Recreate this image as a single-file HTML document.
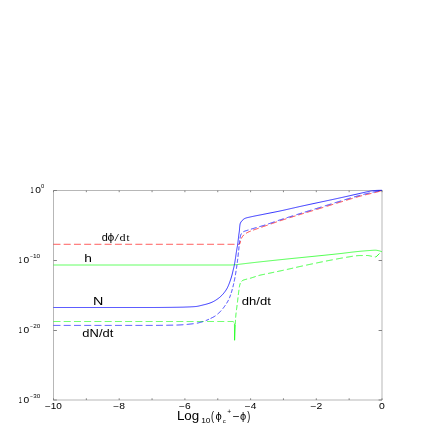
<!DOCTYPE html>
<html><head><meta charset="utf-8"><style>
html,body{margin:0;padding:0;background:#fff;}
svg{display:block;will-change:transform;font-family:"Liberation Sans",sans-serif;fill:#000;}
</style></head><body>
<svg width="436" height="436" viewBox="0 0 436 436">
<path d="M53.5,400.5 V190.5 H382.5" stroke="#b7b7b7" stroke-width="1" fill="none"/>
<path d="M382.0,190.5 V400.0 H53.5" stroke="#b7b7b7" stroke-width="1" fill="none"/>
<path d="M53.50,400.0 v-1.7 M53.50,190.5 v1.7 M86.35,400.0 v-1.7 M86.35,190.5 v1.7 M119.20,400.0 v-1.7 M119.20,190.5 v1.7 M152.05,400.0 v-1.7 M152.05,190.5 v1.7 M184.90,400.0 v-1.7 M184.90,190.5 v1.7 M217.75,400.0 v-1.7 M217.75,190.5 v1.7 M250.60,400.0 v-1.7 M250.60,190.5 v1.7 M283.45,400.0 v-1.7 M283.45,190.5 v1.7 M316.30,400.0 v-1.7 M316.30,190.5 v1.7 M349.15,400.0 v-1.7 M349.15,190.5 v1.7 M382.00,400.0 v-1.7 M382.00,190.5 v1.7 M53.5,190.50 h3.4 M382.0,190.50 h-3.4 M53.5,260.50 h3.4 M382.0,260.50 h-3.4 M53.5,330.50 h3.4 M382.0,330.50 h-3.4 M53.5,400.00 h3.4 M382.0,400.00 h-3.4 " stroke="#777" stroke-width="0.9" fill="none"/>
<path d="M53.50,265.00 L54.50,265.00 L55.50,265.00 L56.50,265.00 L57.50,265.00 L58.51,265.00 L59.51,265.00 L60.51,265.00 L61.51,265.00 L62.51,265.00 L63.51,265.00 L64.51,265.00 L65.51,265.00 L66.51,265.00 L67.52,265.00 L68.52,265.00 L69.52,265.00 L70.52,265.00 L71.52,265.00 L72.52,265.00 L73.52,265.00 L74.52,265.00 L75.52,265.00 L76.52,265.00 L77.52,265.00 L78.52,265.00 L79.53,265.00 L80.53,265.00 L81.53,265.00 L82.53,265.00 L83.53,265.00 L84.53,265.00 L85.53,265.00 L86.53,265.00 L87.53,265.00 L88.53,265.00 L89.53,265.00 L90.53,265.00 L91.53,265.00 L92.53,265.00 L93.53,265.00 L94.54,265.00 L95.54,265.00 L96.54,265.00 L97.54,265.00 L98.54,265.00 L99.54,265.00 L100.54,265.00 L101.54,265.00 L102.54,265.00 L103.54,265.00 L104.54,265.00 L105.54,265.00 L106.54,265.00 L107.54,265.00 L108.54,265.00 L109.54,265.00 L110.54,265.00 L111.54,265.00 L112.54,265.00 L113.54,265.00 L114.54,265.00 L115.54,265.00 L116.54,265.00 L117.54,265.00 L118.54,265.00 L119.54,265.00 L120.54,265.00 L121.54,265.00 L122.54,265.00 L123.54,265.00 L124.54,265.00 L125.54,265.00 L126.54,265.00 L127.54,265.00 L128.54,265.00 L129.54,265.00 L130.55,265.00 L131.55,265.00 L132.55,265.00 L133.55,265.00 L134.55,265.00 L135.55,265.00 L136.55,265.00 L137.54,265.00 L138.54,265.00 L139.54,265.00 L140.54,265.00 L141.54,265.00 L142.54,265.00 L143.54,265.00 L144.54,265.00 L145.54,265.00 L146.54,265.00 L147.54,265.00 L148.54,265.00 L149.54,265.00 L150.54,265.00 L151.54,265.00 L152.54,265.00 L153.54,265.00 L154.54,265.00 L155.54,265.00 L156.54,265.00 L157.54,265.00 L158.54,265.00 L159.54,265.00 L160.54,265.00 L161.54,265.00 L162.54,265.00 L163.54,265.00 L164.54,265.00 L165.54,265.00 L166.54,265.00 L167.54,265.00 L168.54,265.00 L169.54,265.00 L170.54,265.00 L171.54,265.00 L172.54,265.00 L173.54,265.00 L174.54,265.00 L175.54,265.00 L176.53,265.00 L177.53,265.00 L178.53,265.00 L179.53,265.00 L180.53,265.00 L181.53,265.00 L182.53,265.00 L183.53,265.00 L184.53,265.00 L185.53,265.00 L186.53,265.00 L187.53,265.00 L188.53,265.00 L189.53,265.00 L190.53,265.00 L191.53,265.00 L192.53,265.00 L193.53,265.00 L194.53,265.00 L195.52,265.00 L196.52,265.00 L197.52,265.00 L198.52,265.00 L199.52,265.00 L200.52,265.00 L201.52,265.00 L202.52,265.00 L203.52,265.00 L204.52,265.00 L205.52,265.00 L206.52,265.00 L207.52,265.00 L208.52,265.00 L209.52,265.00 L210.51,265.00 L211.51,265.00 L212.51,265.00 L213.51,265.00 L214.51,265.00 L215.51,265.00 L216.51,265.00 L217.51,265.00 L218.51,265.00 L219.51,265.00 L220.51,265.00 L221.51,265.00 L222.51,265.00 L223.51,265.00 L224.50,265.00 L225.50,265.00 L226.50,265.00 L227.50,265.00 L228.50,265.00 L229.50,265.00 L230.50,265.00 L231.50,264.97 L232.50,264.93 L233.50,264.88 L234.50,264.81 L235.49,264.74 L236.49,264.66 L237.48,264.54 L238.47,264.41 L239.47,264.27 L240.46,264.14 L241.45,264.02 L242.44,263.90 L243.44,263.78 L244.43,263.66 L245.42,263.54 L246.41,263.42 L247.41,263.30 L248.40,263.19 L249.39,263.07 L250.39,262.96 L251.38,262.84 L252.37,262.73 L253.37,262.62 L254.36,262.50 L255.36,262.39 L256.35,262.28 L257.34,262.17 L258.34,262.06 L259.33,261.95 L260.32,261.84 L261.32,261.73 L262.31,261.62 L263.31,261.51 L264.30,261.41 L265.29,261.30 L266.29,261.19 L267.28,261.08 L268.28,260.98 L269.27,260.87 L270.27,260.76 L271.26,260.66 L272.26,260.55 L273.25,260.45 L274.24,260.34 L275.24,260.24 L276.23,260.13 L277.23,260.03 L278.22,259.92 L279.22,259.82 L280.21,259.71 L281.21,259.61 L282.20,259.51 L283.20,259.40 L284.19,259.30 L285.18,259.20 L286.18,259.09 L287.17,258.99 L288.17,258.89 L289.16,258.79 L290.16,258.68 L291.15,258.58 L292.15,258.48 L293.14,258.38 L294.14,258.28 L295.13,258.18 L296.13,258.09 L297.12,257.99 L298.12,257.89 L299.11,257.79 L300.11,257.69 L301.10,257.59 L302.10,257.49 L303.09,257.39 L304.09,257.29 L305.08,257.19 L306.08,257.09 L307.07,256.99 L308.07,256.89 L309.06,256.79 L310.06,256.69 L311.05,256.59 L312.05,256.49 L313.04,256.39 L314.04,256.29 L315.03,256.19 L316.03,256.09 L317.02,255.99 L318.02,255.89 L319.01,255.79 L320.01,255.69 L321.00,255.59 L322.00,255.49 L322.99,255.39 L323.99,255.29 L324.98,255.19 L325.98,255.09 L326.97,254.98 L327.97,254.88 L328.96,254.78 L329.96,254.67 L330.95,254.57 L331.95,254.47 L332.94,254.36 L333.94,254.25 L334.93,254.15 L335.92,254.04 L336.92,253.94 L337.91,253.83 L338.91,253.72 L339.90,253.61 L340.89,253.50 L341.89,253.39 L342.88,253.27 L343.87,253.15 L344.87,253.03 L345.86,252.91 L346.85,252.79 L347.84,252.66 L348.84,252.54 L349.83,252.42 L350.82,252.29 L351.82,252.17 L352.81,252.06 L353.80,251.94 L354.80,251.83 L355.79,251.72 L356.78,251.61 L357.78,251.51 L358.77,251.41 L359.77,251.32 L360.76,251.23 L361.76,251.14 L362.76,251.05 L363.75,250.97 L364.75,250.89 L365.75,250.81 L366.74,250.73 L367.74,250.66 L368.74,250.58 L369.74,250.52 L370.73,250.45 L371.73,250.37 L372.73,250.30 L373.73,250.24 L374.73,250.21 L375.72,250.21 L376.72,250.32 L377.71,250.49 L378.69,250.71 L379.66,250.94 L380.61,251.24 L381.55,251.61 L382.00,251.80" stroke="#00ff00" stroke-width="0.68" fill="none"/>
<path d="M53.50,321.50 L54.04,321.50 L54.57,321.50 L55.11,321.50 L55.64,321.50 L56.17,321.50 L56.71,321.50 L57.24,321.50 L57.78,321.50 L58.31,321.50 L58.84,321.50 L59.38,321.50 L59.91,321.50 L60.40,321.50 M63.74,321.50 L64.16,321.50 L64.69,321.50 L65.22,321.50 L65.75,321.50 L66.28,321.50 L66.81,321.50 L67.34,321.50 L67.87,321.50 L68.39,321.50 L68.92,321.50 L69.45,321.50 L69.98,321.50 L70.51,321.50 L70.64,321.50 M73.98,321.50 L74.19,321.50 L74.72,321.50 L75.24,321.50 L75.77,321.50 L76.29,321.50 L76.82,321.50 L77.34,321.50 L77.87,321.50 L78.39,321.50 L78.92,321.50 L79.44,321.50 L79.96,321.50 L80.49,321.50 L80.88,321.50 M84.22,321.50 L84.66,321.50 L85.18,321.50 L85.70,321.50 L86.22,321.50 L86.74,321.50 L87.26,321.50 L87.78,321.50 L88.30,321.50 L88.82,321.50 L89.34,321.50 L89.86,321.50 L90.38,321.50 L90.90,321.50 L91.12,321.50 M94.46,321.50 L94.52,321.50 L95.04,321.50 L95.55,321.50 L96.07,321.50 L96.59,321.50 L97.10,321.50 L97.62,321.50 L98.13,321.50 L98.65,321.50 L99.16,321.50 L99.68,321.50 L100.19,321.50 L100.71,321.50 L101.22,321.50 L101.36,321.50 M104.70,321.50 L104.81,321.50 L105.32,321.50 L105.84,321.50 L106.35,321.50 L106.86,321.50 L107.37,321.50 L107.88,321.50 L108.39,321.50 L108.91,321.50 L109.42,321.50 L109.93,321.50 L110.44,321.50 L110.95,321.50 L111.46,321.50 L111.60,321.50 M114.94,321.50 L115.02,321.50 L115.53,321.50 L116.04,321.50 L116.55,321.50 L117.05,321.50 L117.56,321.50 L118.07,321.50 L118.57,321.50 L119.08,321.50 L119.59,321.50 L120.10,321.50 L120.60,321.50 L121.11,321.50 L121.61,321.50 L121.84,321.50 M125.18,321.50 L125.65,321.50 L126.16,321.50 L126.66,321.50 L127.17,321.50 L127.67,321.50 L128.17,321.50 L128.68,321.50 L129.18,321.50 L129.68,321.50 L130.19,321.50 L130.69,321.50 L131.19,321.50 L131.69,321.50 L132.08,321.50 M135.42,321.50 L135.70,321.50 L136.20,321.50 L136.70,321.50 L137.21,321.50 L137.71,321.50 L138.20,321.50 L138.70,321.50 L139.20,321.50 L139.70,321.50 L140.20,321.50 L140.70,321.50 L141.20,321.50 L141.70,321.50 L142.20,321.50 L142.32,321.50 M145.66,321.50 L145.68,321.50 L146.18,321.50 L146.68,321.50 L147.17,321.50 L147.67,321.50 L148.17,321.50 L148.66,321.50 L149.16,321.50 L149.65,321.50 L150.15,321.50 L150.65,321.50 L151.14,321.50 L151.64,321.50 L152.13,321.50 L152.56,321.50 M155.90,321.50 L156.09,321.50 L156.58,321.50 L157.08,321.50 L157.57,321.50 L158.06,321.50 L158.56,321.50 L159.05,321.50 L159.54,321.50 L160.03,321.50 L160.53,321.50 L161.02,321.50 L161.51,321.50 L162.00,321.50 L162.49,321.50 L162.80,321.50 M166.14,321.50 L166.42,321.50 L166.92,321.50 L167.41,321.50 L167.90,321.50 L168.39,321.50 L168.88,321.50 L169.37,321.50 L169.86,321.50 L170.35,321.50 L170.83,321.50 L171.32,321.50 L171.81,321.50 L172.30,321.50 L172.79,321.50 L173.04,321.50 M176.38,321.50 L176.70,321.50 L177.18,321.50 L177.67,321.50 L178.16,321.50 L178.65,321.50 L179.13,321.50 L179.62,321.50 L180.11,321.50 L180.59,321.50 L181.08,321.50 L181.57,321.50 L182.05,321.50 L182.54,321.50 L183.03,321.50 L183.28,321.50 M186.62,321.50 L186.91,321.50 L187.40,321.50 L187.88,321.50 L188.36,321.50 L188.85,321.50 L189.33,321.50 L189.82,321.50 L190.30,321.50 L190.79,321.50 L191.27,321.50 L191.75,321.50 L192.24,321.50 L192.72,321.50 L193.21,321.50 L193.52,321.50 M196.86,321.50 L197.07,321.50 L197.55,321.50 L198.03,321.50 L198.52,321.50 L199.00,321.50 L199.48,321.50 L199.96,321.50 L200.44,321.50 L200.93,321.50 L201.41,321.50 L201.89,321.50 L202.37,321.50 L202.85,321.50 L203.33,321.50 L203.76,321.50 M207.10,321.50 L207.18,321.50 L207.66,321.50 L208.14,321.50 L208.62,321.50 L209.10,321.50 L209.58,321.50 L210.06,321.50 L210.54,321.50 L211.02,321.50 L211.50,321.50 L211.98,321.50 L212.46,321.50 L212.93,321.50 L213.41,321.50 L213.89,321.50 L214.00,321.50 M217.34,321.50 L217.72,321.50 L218.20,321.50 L218.68,321.50 L219.16,321.50 L219.63,321.50 L220.11,321.50 L220.59,321.50 L221.07,321.50 L221.54,321.50 L222.02,321.50 L222.50,321.50 L222.98,321.50 L223.45,321.50 L223.93,321.50 L224.24,321.50 M227.58,321.50 L227.74,321.50 L228.22,321.50 L228.70,321.50 L229.17,321.50 L229.65,321.50 L230.13,321.50 L230.60,321.50 L231.08,321.50 L231.55,321.50 L232.03,321.50 L232.50,321.50 L233.00,321.58 L233.47,321.81 L233.82,322.11 L233.97,322.35" stroke="#00ff00" stroke-width="0.68" fill="none"/>
<path d="M234.45,323.5 L234.6,340.3 L235.3,325" stroke="#00ff00" stroke-width="0.68" fill="none"/>
<path d="M235.35,324.60 L235.35,324.35 L235.36,324.10 L235.36,323.85 L235.37,323.60 L235.37,323.35 L235.38,323.10 L235.39,322.85 L235.40,322.60 L235.40,322.35 L235.41,322.10 L235.42,321.85 L235.43,321.60 L235.44,321.35 L235.45,321.10 L235.46,320.85 L235.47,320.60 L235.48,320.35 L235.50,320.10 L235.51,319.88 M235.65,317.61 L235.67,317.36 L235.69,317.11 L235.71,316.86 L235.73,316.61 L235.75,316.36 L235.77,316.11 L235.80,315.86 L235.82,315.61 L235.84,315.37 L235.87,315.12 L235.89,314.87 L235.91,314.62 L235.94,314.37 L235.97,314.12 L235.99,313.87 L236.02,313.63 L236.05,313.38 L236.07,313.13 L236.10,312.88 L236.13,312.63 L236.14,312.58 M236.43,310.15 L236.47,309.90 L236.50,309.65 L236.53,309.41 L236.56,309.16 L236.59,308.91 L236.63,308.66 L236.66,308.41 L236.69,308.17 L236.73,307.92 L236.76,307.67 L236.79,307.42 L236.82,307.17 L236.86,306.93 L236.89,306.68 L236.92,306.43 L236.96,306.18 L236.99,305.93 L237.02,305.69 L237.05,305.44 L237.09,305.19 L237.11,304.97 M237.43,302.46 L237.46,302.21 L237.49,301.97 L237.52,301.72 L237.55,301.47 L237.58,301.22 L237.61,300.97 L237.63,300.72 L237.66,300.48 L237.69,300.23 L237.72,299.98 L237.75,299.73 L237.78,299.48 L237.81,299.23 L237.84,298.99 L237.87,298.74 L237.89,298.49 L237.92,298.24 L237.95,297.99 L237.98,297.74 L238.01,297.50 L238.02,297.44 M238.30,295.01 L238.33,294.76 L238.36,294.52 L238.39,294.27 L238.42,294.02 L238.45,293.77 L238.48,293.52 L238.51,293.27 L238.54,293.03 L238.57,292.78 L238.60,292.53 L238.63,292.28 L238.67,292.03 L238.70,291.79 L238.73,291.54 L238.76,291.29 L238.79,291.04 L238.83,290.79 L238.86,290.55 L238.89,290.30 L238.92,290.05 L238.96,289.83 M239.31,287.33 L239.35,287.08 L239.39,286.83 L239.43,286.59 L239.47,286.34 L239.52,286.10 L239.57,285.85 L239.62,285.61 L239.68,285.36 L239.74,285.12 L239.80,284.88 L239.87,284.64 L239.94,284.40 L240.01,284.16 L240.09,283.92 L240.17,283.68 L240.26,283.45 L240.36,283.21 L240.41,283.09 M241.57,281.33 L241.75,281.16 L241.93,280.99 L242.13,280.84 L242.34,280.69 L242.55,280.55 L242.77,280.42 L242.99,280.31 L243.21,280.20 L243.44,280.11 L243.67,280.02 L243.91,279.94 L244.15,279.86 L244.39,279.78 L244.63,279.71 L244.87,279.64 L245.11,279.57 L245.35,279.50 L245.59,279.43 L245.83,279.37 L246.07,279.31 L246.32,279.25 L246.56,279.19 L246.80,279.13 L247.05,279.07 L247.11,279.06 M249.96,278.34 L250.20,278.27 L250.44,278.20 L250.68,278.13 L250.92,278.06 L251.16,277.98 L251.39,277.91 L251.63,277.83 L251.87,277.76 L252.11,277.68 L252.35,277.60 L252.58,277.52 L252.82,277.45 L253.06,277.37 L253.30,277.29 L253.53,277.21 L253.77,277.13 L254.01,277.05 L254.25,276.97 L254.48,276.89 L254.72,276.81 L254.96,276.73 L255.20,276.65 L255.43,276.57 L255.67,276.49 L255.73,276.47 M258.53,275.59 L258.77,275.52 L259.01,275.46 L259.25,275.39 L259.50,275.33 L259.74,275.27 L259.98,275.21 L260.22,275.15 L260.46,275.09 L260.71,275.03 L260.95,274.98 L261.19,274.92 L261.44,274.87 L261.68,274.82 L261.93,274.76 L262.17,274.71 L262.42,274.66 L262.66,274.61 L262.91,274.56 L263.15,274.51 L263.40,274.47 L263.64,274.42 L263.89,274.37 L264.13,274.32 L264.38,274.27 L264.63,274.22 L264.87,274.17 L264.94,274.16 M268.05,273.50 L268.30,273.45 L268.54,273.40 L268.79,273.35 L269.03,273.30 L269.27,273.24 L269.52,273.19 L269.76,273.14 L270.01,273.09 L270.25,273.04 L270.50,272.99 L270.74,272.94 L270.99,272.88 L271.23,272.83 L271.48,272.78 L271.72,272.73 L271.97,272.68 L272.21,272.63 L272.45,272.57 L272.70,272.52 L272.94,272.47 L273.19,272.42 L273.43,272.37 L273.68,272.32 L273.92,272.26 L274.15,272.22 M277.10,271.59 L277.35,271.54 L277.59,271.49 L277.84,271.44 L278.08,271.38 L278.32,271.33 L278.57,271.28 L278.81,271.23 L279.06,271.18 L279.30,271.12 L279.55,271.07 L279.79,271.02 L280.04,270.97 L280.28,270.92 L280.53,270.86 L280.77,270.81 L281.01,270.76 L281.26,270.71 L281.50,270.65 L281.75,270.60 L281.99,270.55 L282.24,270.50 L282.48,270.44 L282.73,270.39 L282.97,270.34 L283.21,270.29 L283.46,270.23 L283.69,270.18 M286.88,269.49 L287.12,269.44 L287.37,269.38 L287.61,269.33 L287.86,269.28 L288.10,269.22 L288.34,269.17 L288.59,269.11 L288.83,269.06 L289.08,269.01 L289.32,268.95 L289.56,268.90 L289.81,268.84 L290.05,268.79 L290.30,268.73 L290.54,268.68 L290.78,268.62 L291.03,268.57 L291.27,268.51 L291.51,268.46 L291.76,268.40 L292.00,268.34 L292.25,268.29 L292.49,268.23 L292.73,268.18 L292.98,268.12 L293.13,268.08 M296.14,267.38 L296.38,267.32 L296.63,267.26 L296.87,267.21 L297.11,267.15 L297.36,267.09 L297.60,267.04 L297.85,266.98 L298.09,266.93 L298.33,266.87 L298.58,266.82 L298.82,266.76 L299.06,266.71 L299.31,266.65 L299.55,266.60 L299.80,266.54 L300.04,266.49 L300.29,266.44 L300.53,266.38 L300.77,266.33 L301.02,266.28 L301.26,266.23 L301.51,266.17 L301.75,266.12 L301.99,266.07 L302.24,266.01 L302.48,265.96 L302.73,265.91 L302.88,265.87 M306.15,265.17 L306.39,265.12 L306.64,265.06 L306.88,265.01 L307.13,264.96 L307.37,264.91 L307.62,264.86 L307.86,264.80 L308.10,264.75 L308.35,264.70 L308.59,264.65 L308.84,264.59 L309.08,264.54 L309.33,264.49 L309.57,264.44 L309.82,264.39 L310.06,264.34 L310.31,264.28 L310.55,264.23 L310.80,264.18 L311.04,264.13 L311.28,264.08 L311.53,264.03 L311.77,263.97 L312.02,263.92 L312.26,263.87 L312.51,263.82 L312.75,263.77 L312.91,263.74 M316.18,263.05 L316.42,263.00 L316.67,262.95 L316.91,262.90 L317.16,262.85 L317.40,262.80 L317.65,262.75 L317.89,262.70 L318.14,262.65 L318.38,262.60 L318.63,262.55 L318.87,262.50 L319.12,262.45 L319.36,262.40 L319.61,262.35 L319.85,262.30 L320.10,262.25 L320.34,262.20 L320.59,262.15 L320.83,262.10 L321.08,262.05 L321.32,262.00 L321.57,261.95 L321.81,261.90 L322.06,261.85 L322.30,261.80 L322.55,261.75 L322.78,261.71 M325.98,261.07 L326.23,261.02 L326.47,260.97 L326.72,260.92 L326.96,260.87 L327.21,260.83 L327.45,260.78 L327.70,260.73 L327.95,260.68 L328.19,260.63 L328.44,260.58 L328.68,260.54 L328.93,260.49 L329.17,260.44 L329.42,260.39 L329.66,260.35 L329.91,260.30 L330.15,260.25 L330.40,260.20 L330.64,260.16 L330.89,260.11 L331.14,260.06 L331.38,260.01 L331.63,259.97 L331.87,259.92 L332.12,259.87 L332.36,259.83 L332.61,259.78 L332.76,259.75 M336.05,259.13 L336.29,259.08 L336.54,259.04 L336.78,258.99 L337.03,258.95 L337.28,258.90 L337.52,258.85 L337.77,258.81 L338.01,258.76 L338.26,258.72 L338.51,258.67 L338.75,258.63 L339.00,258.58 L339.24,258.54 L339.49,258.49 L339.73,258.45 L339.98,258.40 L340.23,258.36 L340.47,258.31 L340.72,258.27 L340.96,258.22 L341.21,258.18 L341.46,258.14 L341.70,258.09 L341.95,258.05 L342.19,258.00 L342.44,257.96 L342.69,257.92 L342.84,257.89 M346.14,257.33 L346.38,257.29 L346.63,257.25 L346.88,257.21 L347.13,257.17 L347.37,257.13 L347.62,257.10 L347.87,257.06 L348.11,257.02 L348.36,256.98 L348.61,256.94 L348.86,256.90 L349.10,256.86 L349.35,256.82 L349.60,256.78 L349.84,256.74 L350.09,256.69 L350.34,256.65 L350.59,256.61 L350.83,256.57 L351.08,256.52 L351.33,256.48 L351.58,256.44 L351.82,256.40 L352.07,256.36 L352.32,256.32 L352.57,256.28 L352.80,256.24 M356.04,255.79 L356.28,255.77 L356.53,255.74 L356.78,255.72 L357.03,255.70 L357.28,255.68 L357.53,255.66 L357.78,255.65 L358.02,255.63 L358.27,255.62 L358.52,255.61 L358.77,255.60 L359.02,255.60 L359.27,255.59 L359.52,255.59 L359.77,255.58 L360.02,255.58 L360.27,255.57 L360.52,255.57 L360.77,255.56 L361.02,255.56 L361.27,255.55 L361.52,255.55 L361.77,255.55 L362.02,255.54 L362.27,255.54 L362.52,255.53 L362.77,255.53 M366.03,255.50 L366.28,255.50 L366.52,255.50 L366.77,255.50 L367.02,255.50 L367.27,255.50 L367.52,255.51 L367.76,255.53 L368.01,255.55 L368.26,255.57 L368.50,255.61 L368.75,255.65 L369.00,255.69 L369.24,255.73 L369.49,255.78 L369.73,255.83 L369.98,255.89 L370.23,255.94 L370.47,256.00 L370.72,256.06 L370.96,256.11 L371.21,256.17 L371.45,256.23 L371.70,256.28 L371.95,256.34 L371.99,256.34 M374.87,256.84 L374.91,256.84 L375.15,256.88 L375.40,256.92 L375.65,256.96 L375.89,257.00 L375.90,257.00 L376.10,256.80 L379.50,253.53" stroke="#00ff00" stroke-width="0.8" fill="none"/>
<path d="M53.50,244.30 L53.82,244.30 L54.14,244.30 L54.47,244.30 L54.79,244.30 L55.11,244.30 L55.43,244.30 L55.75,244.30 L56.07,244.30 L56.39,244.30 L56.71,244.30 L57.04,244.30 L57.35,244.30 L57.67,244.30 L57.99,244.30 L58.31,244.30 L58.63,244.30 L58.95,244.30 L59.27,244.30 L59.59,244.30 L59.91,244.30 L60.22,244.30 L60.40,244.30 M63.74,244.30 L64.02,244.30 L64.33,244.30 L64.65,244.30 L64.96,244.30 L65.27,244.30 L65.59,244.30 L65.90,244.30 L66.21,244.30 L66.53,244.30 L66.84,244.30 L67.15,244.30 L67.46,244.30 L67.78,244.30 L68.09,244.30 L68.40,244.30 L68.71,244.30 L69.02,244.30 L69.33,244.30 L69.64,244.30 L69.95,244.30 L70.26,244.30 L70.57,244.30 L70.64,244.30 M73.98,244.30 L74.27,244.30 L74.58,244.30 L74.89,244.30 L75.19,244.30 L75.50,244.30 L75.80,244.30 L76.11,244.30 L76.42,244.30 L76.72,244.30 L77.03,244.30 L77.33,244.30 L77.63,244.30 L77.94,244.30 L78.24,244.30 L78.55,244.30 L78.85,244.30 L79.15,244.30 L79.46,244.30 L79.76,244.30 L80.06,244.30 L80.36,244.30 L80.67,244.30 L80.88,244.30 M84.22,244.30 L84.27,244.30 L84.57,244.30 L84.87,244.30 L85.17,244.30 L85.47,244.30 L85.77,244.30 L86.07,244.30 L86.36,244.30 L86.66,244.30 L86.96,244.30 L87.26,244.30 L87.55,244.30 L87.85,244.30 L88.15,244.30 L88.44,244.30 L88.74,244.30 L89.03,244.30 L89.33,244.30 L89.63,244.30 L89.92,244.30 L90.22,244.30 L90.51,244.30 L90.80,244.30 L91.10,244.30 L91.12,244.30 M94.46,244.30 L94.61,244.30 L94.90,244.30 L95.20,244.30 L95.49,244.30 L95.78,244.30 L96.07,244.30 L96.36,244.30 L96.65,244.30 L96.94,244.30 L97.23,244.30 L97.52,244.30 L97.81,244.30 L98.10,244.30 L98.38,244.30 L98.67,244.30 L98.96,244.30 L99.25,244.30 L99.54,244.30 L99.82,244.30 L100.11,244.30 L100.40,244.30 L100.69,244.30 L100.97,244.30 L101.26,244.30 L101.36,244.30 M104.70,244.30 L104.97,244.30 L105.25,244.30 L105.53,244.30 L105.82,244.30 L106.10,244.30 L106.38,244.30 L106.67,244.30 L106.95,244.30 L107.23,244.30 L107.51,244.30 L107.79,244.30 L108.08,244.30 L108.36,244.30 L108.64,244.30 L108.92,244.30 L109.20,244.30 L109.48,244.30 L109.76,244.30 L110.04,244.30 L110.32,244.30 L110.60,244.30 L110.88,244.30 L111.16,244.30 L111.44,244.30 L111.60,244.30 M114.94,244.30 L115.05,244.30 L115.32,244.30 L115.60,244.30 L115.87,244.30 L116.15,244.30 L116.43,244.30 L116.70,244.30 L116.98,244.30 L117.25,244.30 L117.52,244.30 L117.80,244.30 L118.07,244.30 L118.35,244.30 L118.62,244.30 L118.89,244.30 L119.17,244.30 L119.44,244.30 L119.71,244.30 L119.99,244.30 L120.26,244.30 L120.53,244.30 L120.80,244.30 L121.08,244.30 L121.35,244.30 L121.62,244.30 L121.84,244.30 M125.18,244.30 L125.40,244.30 L125.67,244.30 L125.94,244.30 L126.20,244.30 L126.47,244.30 L126.74,244.30 L127.01,244.30 L127.27,244.30 L127.54,244.30 L127.81,244.30 L128.08,244.30 L128.34,244.30 L128.61,244.30 L128.87,244.30 L129.14,244.30 L129.41,244.30 L129.67,244.30 L129.94,244.30 L130.20,244.30 L130.47,244.30 L130.73,244.30 L131.00,244.30 L131.26,244.30 L131.53,244.30 L131.79,244.30 L132.05,244.30 L132.08,244.30 M135.42,244.30 L135.47,244.30 L135.73,244.30 L135.99,244.30 L136.25,244.30 L136.51,244.30 L136.77,244.30 L137.03,244.30 L137.29,244.30 L137.55,244.30 L137.81,244.30 L138.07,244.30 L138.33,244.30 L138.59,244.30 L138.85,244.30 L139.11,244.30 L139.37,244.30 L139.62,244.30 L139.88,244.30 L140.14,244.30 L140.40,244.30 L140.66,244.30 L140.91,244.30 L141.17,244.30 L141.43,244.30 L141.68,244.30 L141.94,244.30 L142.20,244.30 L142.32,244.30 M145.66,244.30 L145.77,244.30 L146.02,244.30 L146.28,244.30 L146.53,244.30 L146.78,244.30 L147.04,244.30 L147.29,244.30 L147.54,244.30 L147.80,244.30 L148.05,244.30 L148.30,244.30 L148.55,244.30 L148.80,244.30 L149.06,244.30 L149.31,244.30 L149.56,244.30 L149.81,244.30 L150.06,244.30 L150.31,244.30 L150.56,244.30 L150.81,244.30 L151.06,244.30 L151.31,244.30 L151.56,244.30 L151.81,244.30 L152.06,244.30 L152.31,244.30 L152.56,244.30 L152.56,244.30 M155.90,244.30 L156.03,244.30 L156.28,244.30 L156.52,244.30 L156.77,244.30 L157.02,244.30 L157.26,244.30 L157.51,244.30 L157.75,244.30 L158.00,244.30 L158.24,244.30 L158.49,244.30 L158.73,244.30 L158.98,244.30 L159.22,244.30 L159.47,244.30 L159.71,244.30 L159.96,244.30 L160.20,244.30 L160.44,244.30 L160.69,244.30 L160.93,244.30 L161.17,244.30 L161.42,244.30 L161.66,244.30 L161.90,244.30 L162.14,244.30 L162.39,244.30 L162.63,244.30 L162.80,244.30 M166.14,244.30 L166.24,244.30 L166.48,244.30 L166.72,244.30 L166.96,244.30 L167.20,244.30 L167.44,244.30 L167.68,244.30 L167.92,244.30 L168.15,244.30 L168.39,244.30 L168.63,244.30 L168.87,244.30 L169.11,244.30 L169.34,244.30 L169.58,244.30 L169.82,244.30 L170.06,244.30 L170.29,244.30 L170.53,244.30 L170.77,244.30 L171.00,244.30 L171.24,244.30 L171.47,244.30 L171.71,244.30 L171.95,244.30 L172.18,244.30 L172.42,244.30 L172.65,244.30 L172.89,244.30 L173.04,244.30 M176.38,244.30 L176.40,244.30 L176.63,244.30 L176.86,244.30 L177.09,244.30 L177.33,244.30 L177.56,244.30 L177.79,244.30 L178.02,244.30 L178.25,244.30 L178.49,244.30 L178.72,244.30 L178.95,244.30 L179.18,244.30 L179.41,244.30 L179.64,244.30 L179.87,244.30 L180.10,244.30 L180.33,244.30 L180.56,244.30 L180.79,244.30 L181.02,244.30 L181.25,244.30 L181.48,244.30 L181.71,244.30 L181.94,244.30 L182.17,244.30 L182.40,244.30 L182.63,244.30 L182.85,244.30 L183.08,244.30 L183.28,244.30 M186.62,244.30 L186.72,244.30 L186.94,244.30 L187.17,244.30 L187.40,244.30 L187.62,244.30 L187.85,244.30 L188.07,244.30 L188.30,244.30 L188.52,244.30 L188.75,244.30 L188.97,244.30 L189.20,244.30 L189.42,244.30 L189.64,244.30 L189.87,244.30 L190.09,244.30 L190.32,244.30 L190.54,244.30 L190.76,244.30 L190.99,244.30 L191.21,244.30 L191.43,244.30 L191.66,244.30 L191.88,244.30 L192.10,244.30 L192.32,244.30 L192.55,244.30 L192.77,244.30 L192.99,244.30 L193.21,244.30 L193.43,244.30 L193.52,244.30 M196.86,244.30 L196.96,244.30 L197.18,244.30 L197.40,244.30 L197.62,244.30 L197.84,244.30 L198.06,244.30 L198.28,244.30 L198.50,244.30 L198.72,244.30 L198.93,244.30 L199.15,244.30 L199.37,244.30 L199.59,244.30 L199.81,244.30 L200.02,244.30 L200.24,244.30 L200.46,244.30 L200.68,244.30 L200.89,244.30 L201.11,244.30 L201.33,244.30 L201.54,244.30 L201.76,244.30 L201.98,244.30 L202.19,244.30 L202.41,244.30 L202.63,244.30 L202.84,244.30 L203.06,244.30 L203.27,244.30 L203.49,244.30 L203.70,244.30 L203.76,244.30 M207.10,244.30 L207.13,244.30 L207.35,244.30 L207.56,244.30 L207.77,244.30 L207.99,244.30 L208.20,244.30 L208.41,244.30 L208.62,244.30 L208.84,244.30 L209.05,244.30 L209.26,244.30 L209.47,244.30 L209.68,244.30 L209.90,244.30 L210.11,244.30 L210.32,244.30 L210.53,244.30 L210.74,244.30 L210.95,244.30 L211.16,244.30 L211.37,244.30 L211.59,244.30 L211.80,244.30 L212.01,244.30 L212.22,244.30 L212.43,244.30 L212.64,244.30 L212.85,244.30 L213.06,244.30 L213.27,244.30 L213.48,244.30 L213.69,244.30 L213.90,244.30 L214.00,244.30 M217.34,244.30 L217.44,244.30 L217.65,244.30 L217.85,244.30 L218.06,244.30 L218.27,244.30 L218.47,244.30 L218.68,244.30 L218.89,244.30 L219.09,244.30 L219.30,244.30 L219.51,244.30 L219.71,244.30 L219.92,244.30 L220.12,244.30 L220.33,244.30 L220.54,244.30 L220.74,244.30 L220.95,244.30 L221.15,244.30 L221.36,244.30 L221.56,244.30 L221.77,244.30 L221.97,244.30 L222.18,244.30 L222.38,244.30 L222.59,244.30 L222.79,244.30 L223.00,244.30 L223.20,244.30 L223.40,244.30 L223.61,244.30 L223.81,244.30 L224.02,244.30 L224.22,244.30 L224.24,244.30 M227.58,244.30 L227.66,244.30 L227.87,244.30 L228.07,244.30 L228.27,244.30 L228.47,244.30 L228.67,244.30 L228.87,244.30 L229.07,244.30 L229.28,244.30 L229.48,244.30 L229.68,244.30 L229.88,244.30 L230.08,244.30 L230.28,244.30 L230.48,244.30 L230.68,244.30 L230.88,244.30 L231.08,244.30 L231.28,244.30 L231.48,244.30 L231.68,244.30 L231.88,244.30 L232.08,244.30 L232.28,244.30 L232.48,244.30 L232.68,244.30 L232.88,244.30 L233.07,244.30 L233.27,244.30 L233.47,244.30 L233.67,244.30 L233.87,244.30 L234.07,244.30 L234.27,244.30 L234.47,244.30 L234.48,244.30 M237.82,244.30 L238.02,244.30 L238.22,244.30 L238.41,244.30 L238.61,244.30 L238.80,244.30 L239.00,244.30 L239.20,244.24 L239.40,244.09 L239.59,243.87 L239.76,243.64 L239.89,243.42 L239.99,243.22 L240.08,243.00 L240.16,242.78 L240.24,242.55 L240.30,242.32 L240.37,242.07 L240.42,241.83 L240.48,241.58 L240.53,241.32 L240.58,241.07 L240.60,240.96 M241.26,238.62 L241.36,238.39 L241.47,238.17 L241.59,237.95 L241.71,237.73 L241.84,237.51 L241.97,237.29 L242.11,237.08 L242.25,236.87 L242.39,236.66 L242.53,236.46 L242.68,236.26 L242.83,236.06 L242.99,235.86 L243.15,235.67 L243.32,235.48 L243.49,235.29 L243.67,235.12 L243.85,234.95 L244.03,234.79 L244.13,234.70 M246.06,233.33 L246.28,233.20 L246.49,233.07 L246.71,232.94 L246.93,232.82 L247.15,232.69 L247.37,232.57 L247.59,232.46 L247.81,232.34 L248.03,232.23 L248.25,232.12 L248.48,232.01 L248.70,231.90 L248.93,231.80 L249.16,231.70 L249.39,231.60 L249.62,231.50 L249.85,231.40 L250.08,231.30 L250.31,231.21 L250.55,231.11 L250.75,231.03 M253.11,230.12 L253.35,230.03 L253.58,229.95 L253.82,229.86 L254.05,229.78 L254.29,229.70 L254.53,229.62 L254.76,229.54 L255.00,229.45 L255.24,229.37 L255.47,229.29 L255.71,229.21 L255.95,229.13 L256.18,229.05 L256.42,228.97 L256.66,228.89 L256.90,228.81 L257.13,228.73 L257.37,228.65 L257.60,228.57 L257.84,228.49 L258.08,228.40 L258.31,228.32 L258.55,228.24 L258.69,228.19 M261.38,227.25 L261.62,227.17 L261.86,227.09 L262.09,227.01 L262.33,226.93 L262.56,226.84 L262.80,226.76 L263.04,226.68 L263.27,226.60 L263.51,226.52 L263.74,226.44 L263.98,226.35 L264.22,226.27 L264.45,226.19 L264.69,226.11 L264.93,226.03 L265.16,225.94 L265.40,225.86 L265.63,225.78 L265.87,225.70 L266.11,225.61 L266.34,225.53 L266.58,225.45 L266.81,225.37 L267.05,225.28 L267.29,225.20 L267.52,225.12 L267.75,225.04 M270.82,223.96 L271.06,223.88 L271.30,223.79 L271.53,223.71 L271.77,223.63 L272.00,223.54 L272.24,223.46 L272.48,223.38 L272.71,223.30 L272.95,223.21 L273.18,223.13 L273.42,223.05 L273.66,222.97 L273.89,222.88 L274.13,222.80 L274.36,222.72 L274.60,222.64 L274.84,222.55 L275.07,222.47 L275.31,222.39 L275.55,222.31 L275.78,222.23 L276.02,222.15 L276.25,222.06 L276.49,221.98 L276.73,221.90 L276.87,221.85 M279.81,220.86 L280.04,220.79 L280.28,220.71 L280.52,220.63 L280.76,220.55 L280.99,220.47 L281.23,220.39 L281.47,220.32 L281.71,220.24 L281.94,220.16 L282.18,220.08 L282.42,220.01 L282.66,219.93 L282.89,219.85 L283.13,219.78 L283.37,219.70 L283.61,219.62 L283.85,219.55 L284.08,219.47 L284.32,219.39 L284.56,219.32 L284.80,219.24 L285.04,219.16 L285.27,219.09 L285.51,219.01 L285.75,218.94 L285.99,218.86 L286.23,218.79 L286.38,218.74 M289.57,217.73 L289.80,217.66 L290.04,217.58 L290.28,217.51 L290.52,217.44 L290.76,217.36 L291.00,217.29 L291.24,217.21 L291.47,217.14 L291.71,217.06 L291.95,216.99 L292.19,216.92 L292.43,216.84 L292.67,216.77 L292.91,216.69 L293.15,216.62 L293.39,216.55 L293.62,216.47 L293.86,216.40 L294.10,216.32 L294.34,216.25 L294.58,216.18 L294.82,216.10 L295.06,216.03 L295.30,215.95 L295.52,215.89 M298.40,214.99 L298.64,214.92 L298.88,214.85 L299.12,214.77 L299.36,214.70 L299.60,214.63 L299.83,214.55 L300.07,214.48 L300.31,214.40 L300.55,214.33 L300.79,214.26 L301.03,214.18 L301.27,214.11 L301.51,214.03 L301.75,213.96 L301.98,213.89 L302.22,213.81 L302.46,213.74 L302.70,213.67 L302.94,213.59 L303.18,213.52 L303.42,213.45 L303.66,213.37 L303.88,213.31 M306.53,212.50 L306.77,212.43 L307.01,212.35 L307.24,212.28 L307.48,212.21 L307.72,212.13 L307.96,212.06 L308.20,211.99 L308.44,211.92 L308.68,211.84 L308.92,211.77 L309.16,211.70 L309.40,211.63 L309.64,211.55 L309.88,211.48 L310.12,211.41 L310.35,211.34 L310.59,211.26 L310.83,211.19 L311.07,211.12 L311.31,211.05 L311.55,210.97 L311.79,210.90 L312.03,210.83 L312.27,210.76 L312.51,210.68 L312.75,210.61 L312.99,210.54 L313.14,210.49 M316.34,209.52 L316.57,209.45 L316.81,209.38 L317.05,209.30 L317.29,209.23 L317.53,209.16 L317.77,209.08 L318.01,209.01 L318.25,208.94 L318.49,208.86 L318.73,208.79 L318.97,208.72 L319.20,208.64 L319.44,208.57 L319.68,208.50 L319.92,208.42 L320.16,208.35 L320.40,208.28 L320.64,208.20 L320.88,208.13 L321.12,208.06 L321.35,207.98 L321.59,207.91 L321.83,207.84 L322.07,207.76 L322.31,207.69 L322.55,207.61 L322.79,207.54 L323.03,207.47 L323.26,207.39 M326.61,206.35 L326.85,206.28 L327.08,206.20 L327.32,206.13 L327.56,206.05 L327.80,205.98 L328.04,205.91 L328.28,205.83 L328.52,205.76 L328.76,205.68 L328.99,205.61 L329.23,205.53 L329.47,205.46 L329.71,205.38 L329.95,205.31 L330.19,205.24 L330.43,205.16 L330.66,205.09 L330.90,205.01 L331.14,204.94 L331.38,204.86 L331.62,204.79 L331.86,204.71 L332.10,204.64 L332.34,204.57 L332.57,204.49 L332.81,204.42 L333.05,204.34 L333.20,204.30 M336.39,203.31 L336.63,203.23 L336.87,203.16 L337.11,203.09 L337.35,203.01 L337.59,202.94 L337.83,202.87 L338.07,202.79 L338.31,202.72 L338.54,202.64 L338.78,202.57 L339.02,202.50 L339.26,202.43 L339.50,202.35 L339.74,202.28 L339.98,202.21 L340.22,202.13 L340.46,202.06 L340.70,201.99 L340.94,201.91 L341.17,201.84 L341.41,201.77 L341.65,201.69 L341.89,201.62 L342.13,201.55 L342.37,201.47 L342.61,201.40 L342.85,201.32 L343.00,201.28 M346.19,200.29 L346.43,200.21 L346.67,200.14 L346.91,200.06 L347.15,199.99 L347.39,199.92 L347.62,199.84 L347.86,199.77 L348.10,199.70 L348.34,199.62 L348.58,199.55 L348.82,199.47 L349.06,199.40 L349.30,199.33 L349.54,199.25 L349.78,199.18 L350.02,199.11 L350.25,199.03 L350.49,198.96 L350.73,198.89 L350.97,198.81 L351.21,198.74 L351.45,198.67 L351.69,198.60 L351.93,198.52 L352.17,198.45 L352.41,198.38 L352.64,198.31 M355.76,197.39 L356.00,197.32 L356.24,197.25 L356.48,197.18 L356.72,197.11 L356.96,197.04 L357.21,196.97 L357.45,196.91 L357.69,196.84 L357.93,196.77 L358.17,196.70 L358.41,196.64 L358.65,196.57 L358.89,196.50 L359.13,196.44 L359.37,196.37 L359.61,196.30 L359.85,196.24 L360.09,196.17 L360.34,196.11 L360.58,196.05 L360.82,195.98 L361.06,195.92 L361.30,195.85 L361.54,195.79 L361.79,195.73 L362.03,195.67 L362.10,195.65 M365.18,194.88 L365.42,194.82 L365.67,194.76 L365.91,194.70 L366.15,194.64 L366.39,194.58 L366.64,194.53 L366.88,194.47 L367.12,194.41 L367.37,194.35 L367.61,194.29 L367.85,194.23 L368.10,194.18 L368.34,194.12 L368.58,194.06 L368.83,194.00 L369.07,193.94 L369.31,193.88 L369.56,193.83 L369.80,193.77 L370.04,193.71 L370.29,193.65 L370.53,193.59 L370.77,193.54 L371.02,193.48 L371.26,193.42 L371.41,193.38 M374.42,192.65 L374.66,192.59 L374.90,192.52 L375.14,192.46 L375.39,192.40 L375.63,192.34 L375.87,192.28 L376.11,192.22 L376.36,192.16 L376.60,192.09 L376.84,192.03 L377.08,191.97 L377.32,191.91 L377.57,191.85 L377.81,191.78 L378.05,191.72 L378.29,191.66 L378.53,191.60 L378.78,191.54 L379.02,191.47 L379.26,191.41 L379.50,191.35 L379.75,191.29 L379.99,191.22 L380.23,191.16 L380.47,191.10 L380.62,191.06" stroke="#ff0000" stroke-width="0.8" fill="none"/>
<path d="M53.50,307.50 L54.50,307.50 L55.50,307.50 L56.50,307.50 L57.50,307.50 L58.50,307.50 L59.50,307.50 L60.50,307.50 L61.50,307.50 L62.50,307.50 L63.50,307.50 L64.50,307.50 L65.50,307.50 L66.50,307.50 L67.50,307.50 L68.50,307.50 L69.50,307.50 L70.50,307.50 L71.50,307.50 L72.50,307.50 L73.50,307.50 L74.50,307.50 L75.50,307.50 L76.50,307.50 L77.50,307.50 L78.50,307.50 L79.50,307.50 L80.50,307.50 L81.50,307.50 L82.50,307.50 L83.50,307.50 L84.50,307.50 L85.50,307.50 L86.50,307.50 L87.50,307.50 L88.50,307.50 L89.50,307.50 L90.50,307.50 L91.50,307.50 L92.50,307.50 L93.50,307.50 L94.50,307.50 L95.50,307.50 L96.50,307.50 L97.50,307.50 L98.50,307.50 L99.50,307.50 L100.50,307.50 L101.50,307.50 L102.50,307.50 L103.50,307.50 L104.50,307.50 L105.50,307.50 L106.50,307.50 L107.50,307.50 L108.50,307.50 L109.50,307.50 L110.50,307.50 L111.50,307.50 L112.50,307.50 L113.50,307.50 L114.50,307.50 L115.50,307.50 L116.50,307.50 L117.50,307.50 L118.50,307.50 L119.50,307.50 L120.50,307.50 L121.50,307.50 L122.50,307.50 L123.50,307.50 L124.50,307.50 L125.50,307.50 L126.50,307.50 L127.50,307.50 L128.50,307.50 L129.50,307.50 L130.50,307.50 L131.50,307.50 L132.50,307.50 L133.50,307.50 L134.50,307.50 L135.50,307.50 L136.50,307.50 L137.50,307.50 L138.50,307.50 L139.50,307.50 L140.50,307.50 L141.50,307.50 L142.50,307.50 L143.50,307.50 L144.50,307.50 L145.50,307.50 L146.50,307.50 L147.50,307.50 L148.50,307.50 L149.50,307.50 L150.50,307.50 L151.50,307.50 L152.50,307.50 L153.50,307.49 L154.50,307.49 L155.50,307.49 L156.50,307.48 L157.50,307.48 L158.50,307.47 L159.50,307.47 L160.50,307.46 L161.50,307.45 L162.50,307.44 L163.50,307.43 L164.50,307.42 L165.50,307.41 L166.50,307.40 L167.50,307.39 L168.50,307.38 L169.50,307.37 L170.50,307.36 L171.50,307.35 L172.50,307.33 L173.50,307.32 L174.50,307.31 L175.50,307.29 L176.50,307.28 L177.50,307.26 L178.50,307.24 L179.51,307.23 L180.51,307.20 L181.51,307.18 L182.51,307.16 L183.52,307.13 L184.52,307.10 L185.52,307.06 L186.52,307.03 L187.52,306.99 L188.52,306.95 L189.52,306.91 L190.52,306.86 L191.52,306.81 L192.51,306.75 L193.50,306.70 L194.49,306.63 L195.48,306.56 L196.47,306.45 L197.45,306.29 L198.44,306.10 L199.42,305.88 L200.40,305.64 L201.37,305.40 L202.35,305.16 L203.32,304.92 L204.29,304.69 L205.27,304.44 L206.25,304.18 L207.22,303.91 L208.18,303.62 L209.13,303.32 L210.07,302.99 L210.99,302.64 L211.90,302.26 L212.80,301.84 L213.69,301.38 L214.57,300.88 L215.44,300.36 L216.30,299.81 L217.14,299.25 L217.96,298.66 L218.75,298.07 L219.52,297.46 L220.28,296.82 L221.02,296.14 L221.74,295.43 L222.43,294.69 L223.11,293.94 L223.75,293.18 L224.37,292.41 L224.98,291.61 L225.56,290.79 L226.12,289.95 L226.64,289.09 L227.13,288.23 L227.58,287.35 L228.01,286.44 L228.41,285.52 L228.79,284.59 L229.16,283.66 L229.52,282.72 L229.86,281.79 L230.20,280.84 L230.52,279.90 L230.84,278.95 L231.14,277.99 L231.43,277.03 L231.71,276.07 L231.97,275.11 L232.22,274.14 L232.46,273.17 L232.69,272.20 L232.92,271.22 L233.15,270.25 L233.38,269.28 L233.61,268.30 L233.85,267.33 L234.07,266.36 L234.28,265.38 L234.48,264.40 L234.65,263.42 L234.82,262.43 L234.97,261.44 L235.13,260.45 L235.28,259.46 L235.44,258.48 L235.58,257.49 L235.73,256.50 L235.87,255.51 L236.02,254.52 L236.16,253.53 L236.31,252.54 L236.46,251.55 L236.61,250.56 L236.77,249.58 L236.94,248.59 L237.12,247.61 L237.30,246.62 L237.47,245.64 L237.63,244.65 L237.78,243.66 L237.91,242.67 L238.03,241.68 L238.14,240.68 L238.25,239.69 L238.36,238.70 L238.47,237.70 L238.59,236.71 L238.71,235.71 L238.84,234.72 L238.98,233.73 L239.13,232.74 L239.27,231.75 L239.38,230.76 L239.48,229.75 L239.56,228.73 L239.64,227.71 L239.72,226.70 L239.83,225.71 L239.96,224.75 L240.14,223.81 L240.49,222.89 L241.02,221.99 L241.62,221.15 L242.25,220.42 L242.98,219.72 L243.80,219.08 L244.67,218.55 L245.55,218.16 L246.48,217.86 L247.45,217.61 L248.44,217.38 L249.44,217.17 L250.42,216.95 L251.40,216.73 L252.37,216.51 L253.35,216.31 L254.33,216.10 L255.31,215.90 L256.29,215.71 L257.27,215.51 L258.25,215.32 L259.23,215.13 L260.22,214.94 L261.20,214.75 L262.18,214.56 L263.16,214.37 L264.14,214.17 L265.12,213.97 L266.10,213.78 L267.09,213.59 L268.07,213.39 L269.05,213.20 L270.03,213.01 L271.01,212.81 L271.99,212.62 L272.97,212.43 L273.95,212.23 L274.93,212.04 L275.92,211.84 L276.90,211.64 L277.87,211.44 L278.85,211.24 L279.83,211.04 L280.81,210.83 L281.79,210.62 L282.76,210.40 L283.74,210.19 L284.72,209.97 L285.69,209.75 L286.67,209.53 L287.64,209.31 L288.62,209.09 L289.59,208.87 L290.57,208.64 L291.54,208.42 L292.52,208.19 L293.49,207.97 L294.47,207.75 L295.44,207.52 L296.42,207.30 L297.39,207.08 L298.37,206.86 L299.34,206.64 L300.32,206.43 L301.30,206.21 L302.27,206.00 L303.25,205.79 L304.23,205.57 L305.21,205.36 L306.18,205.15 L307.16,204.94 L308.14,204.73 L309.12,204.52 L310.09,204.31 L311.07,204.10 L312.05,203.89 L313.03,203.68 L314.01,203.47 L314.98,203.27 L315.96,203.06 L316.94,202.85 L317.92,202.64 L318.90,202.43 L319.87,202.23 L320.85,202.02 L321.83,201.81 L322.81,201.60 L323.79,201.40 L324.77,201.19 L325.74,200.98 L326.72,200.77 L327.70,200.56 L328.68,200.35 L329.66,200.14 L330.63,199.93 L331.61,199.72 L332.59,199.51 L333.57,199.30 L334.54,199.09 L335.52,198.88 L336.50,198.67 L337.47,198.45 L338.45,198.24 L339.43,198.03 L340.41,197.81 L341.38,197.59 L342.36,197.38 L343.33,197.16 L344.31,196.94 L345.29,196.72 L346.26,196.50 L347.24,196.29 L348.21,196.07 L349.19,195.85 L350.16,195.62 L351.14,195.40 L352.11,195.18 L353.09,194.96 L354.06,194.74 L355.04,194.52 L356.02,194.30 L356.99,194.08 L357.97,193.86 L358.94,193.64 L359.92,193.42 L360.89,193.20 L361.87,192.97 L362.84,192.74 L363.81,192.52 L364.79,192.29 L365.77,192.07 L366.74,191.86 L367.72,191.66 L368.70,191.46 L369.68,191.25 L370.66,191.06 L371.65,190.88 L372.64,190.74 L373.63,190.64 L374.63,190.54 L375.62,190.47 L376.62,190.41 L377.62,190.38 L378.62,190.35 L379.62,190.33 L380.62,190.31 L381.62,190.30 L382.00,190.30" stroke="#0000ff" stroke-width="0.8" fill="none"/>
<path d="M53.50,325.40 L53.75,325.40 L54.00,325.40 L54.25,325.40 L54.50,325.40 L54.75,325.40 L55.00,325.40 L55.25,325.40 L55.50,325.40 L55.75,325.40 L56.00,325.40 L56.25,325.40 L56.50,325.40 L56.75,325.40 L57.00,325.40 L57.25,325.40 L57.50,325.40 L57.75,325.40 L58.00,325.40 L58.25,325.40 L58.50,325.40 L58.75,325.40 L59.00,325.40 L59.25,325.40 L59.50,325.40 L59.75,325.40 L60.00,325.40 L60.25,325.40 L60.41,325.40 M63.75,325.40 L63.75,325.40 L64.00,325.40 L64.25,325.40 L64.50,325.40 L64.75,325.40 L65.00,325.40 L65.25,325.40 L65.50,325.40 L65.75,325.40 L66.00,325.40 L66.25,325.40 L66.50,325.40 L66.75,325.40 L67.00,325.40 L67.25,325.40 L67.50,325.40 L67.75,325.40 L68.00,325.40 L68.25,325.40 L68.50,325.40 L68.75,325.40 L69.00,325.40 L69.25,325.40 L69.50,325.40 L69.75,325.40 L70.00,325.40 L70.25,325.40 L70.50,325.40 L70.66,325.40 M74.00,325.40 L74.00,325.40 L74.25,325.40 L74.50,325.40 L74.75,325.40 L75.00,325.40 L75.25,325.40 L75.50,325.40 L75.75,325.40 L76.00,325.40 L76.25,325.40 L76.50,325.40 L76.75,325.40 L77.00,325.40 L77.25,325.40 L77.50,325.40 L77.75,325.40 L78.00,325.40 L78.25,325.40 L78.50,325.40 L78.75,325.40 L79.00,325.40 L79.25,325.40 L79.50,325.40 L79.75,325.40 L80.00,325.40 L80.25,325.40 L80.50,325.40 L80.75,325.40 L80.91,325.40 M84.25,325.40 L84.25,325.40 L84.50,325.40 L84.75,325.40 L85.00,325.40 L85.25,325.40 L85.50,325.40 L85.75,325.40 L86.00,325.40 L86.25,325.40 L86.50,325.40 L86.75,325.40 L87.00,325.40 L87.25,325.40 L87.50,325.40 L87.75,325.40 L88.00,325.40 L88.25,325.40 L88.50,325.40 L88.75,325.40 L89.00,325.40 L89.25,325.40 L89.50,325.40 L89.75,325.40 L90.00,325.40 L90.25,325.40 L90.50,325.40 L90.75,325.40 L91.00,325.40 L91.16,325.40 M94.50,325.40 L94.50,325.40 L94.75,325.40 L95.00,325.40 L95.25,325.40 L95.50,325.40 L95.75,325.40 L96.00,325.40 L96.25,325.40 L96.50,325.40 L96.75,325.40 L97.00,325.40 L97.25,325.40 L97.50,325.40 L97.75,325.40 L98.00,325.40 L98.25,325.40 L98.50,325.40 L98.75,325.40 L99.00,325.40 L99.25,325.40 L99.50,325.40 L99.75,325.40 L100.00,325.40 L100.25,325.40 L100.50,325.40 L100.75,325.40 L101.00,325.40 L101.25,325.40 L101.41,325.40 M104.75,325.40 L105.00,325.40 L105.25,325.40 L105.50,325.40 L105.75,325.40 L106.00,325.40 L106.25,325.40 L106.50,325.40 L106.75,325.40 L107.00,325.40 L107.25,325.40 L107.50,325.40 L107.75,325.40 L108.00,325.40 L108.25,325.40 L108.50,325.40 L108.75,325.40 L109.00,325.40 L109.25,325.40 L109.50,325.40 L109.75,325.40 L110.00,325.40 L110.25,325.40 L110.50,325.40 L110.75,325.40 L111.00,325.40 L111.25,325.40 L111.50,325.40 L111.66,325.40 M115.00,325.40 L115.25,325.40 L115.50,325.40 L115.75,325.40 L116.00,325.40 L116.25,325.40 L116.50,325.40 L116.75,325.40 L117.00,325.40 L117.25,325.40 L117.50,325.40 L117.75,325.40 L118.00,325.40 L118.25,325.40 L118.50,325.40 L118.75,325.40 L119.00,325.40 L119.25,325.40 L119.50,325.40 L119.75,325.40 L120.00,325.40 L120.25,325.40 L120.50,325.40 L120.75,325.40 L121.00,325.40 L121.25,325.40 L121.50,325.40 L121.75,325.40 L121.91,325.40 M125.25,325.40 L125.50,325.40 L125.75,325.40 L126.00,325.40 L126.25,325.40 L126.50,325.40 L126.75,325.40 L127.00,325.40 L127.25,325.40 L127.50,325.40 L127.75,325.40 L128.00,325.40 L128.25,325.40 L128.50,325.40 L128.75,325.40 L129.00,325.40 L129.25,325.40 L129.50,325.40 L129.75,325.40 L130.00,325.40 L130.25,325.40 L130.50,325.40 L130.75,325.40 L131.00,325.40 L131.25,325.40 L131.50,325.40 L131.75,325.40 L132.00,325.40 L132.16,325.40 M135.50,325.40 L135.75,325.40 L136.00,325.40 L136.25,325.40 L136.50,325.40 L136.75,325.40 L137.00,325.40 L137.25,325.40 L137.50,325.40 L137.75,325.40 L138.00,325.40 L138.25,325.40 L138.50,325.40 L138.75,325.40 L139.00,325.40 L139.25,325.40 L139.50,325.40 L139.75,325.40 L140.00,325.40 L140.25,325.40 L140.50,325.40 L140.75,325.40 L141.00,325.40 L141.25,325.40 L141.50,325.40 L141.75,325.40 L142.00,325.40 L142.25,325.40 L142.41,325.40 M145.75,325.40 L146.00,325.40 L146.25,325.40 L146.50,325.40 L146.75,325.40 L147.00,325.40 L147.25,325.40 L147.50,325.40 L147.75,325.40 L148.00,325.40 L148.25,325.40 L148.50,325.40 L148.75,325.40 L149.00,325.40 L149.25,325.40 L149.50,325.40 L149.75,325.40 L150.00,325.40 L150.25,325.40 L150.50,325.40 L150.75,325.40 L151.00,325.40 L151.25,325.40 L151.50,325.40 L151.75,325.40 L152.00,325.40 L152.25,325.40 L152.50,325.40 L152.66,325.40 M156.00,325.38 L156.25,325.38 L156.50,325.38 L156.75,325.37 L157.00,325.37 L157.25,325.37 L157.50,325.37 L157.75,325.37 L158.00,325.36 L158.25,325.36 L158.50,325.36 L158.75,325.36 L159.00,325.36 L159.25,325.35 L159.50,325.35 L159.75,325.35 L160.00,325.35 L160.25,325.34 L160.50,325.34 L160.75,325.34 L161.00,325.33 L161.25,325.33 L161.50,325.33 L161.75,325.33 L162.00,325.32 L162.25,325.32 L162.50,325.32 L162.75,325.31 L162.91,325.31 M166.25,325.26 L166.25,325.26 L166.50,325.26 L166.75,325.26 L167.00,325.25 L167.25,325.25 L167.50,325.24 L167.75,325.24 L168.00,325.24 L168.25,325.23 L168.50,325.23 L168.75,325.22 L169.00,325.22 L169.25,325.21 L169.50,325.21 L169.75,325.20 L170.00,325.20 L170.25,325.20 L170.50,325.19 L170.75,325.19 L171.00,325.18 L171.25,325.18 L171.50,325.17 L171.75,325.17 L172.00,325.16 L172.25,325.16 L172.50,325.15 L172.75,325.15 L173.00,325.14 L173.16,325.14 M176.50,325.06 L176.75,325.05 L177.00,325.04 L177.25,325.03 L177.50,325.03 L177.75,325.02 L178.00,325.01 L178.25,324.99 L178.50,324.98 L178.75,324.97 L179.00,324.96 L179.25,324.95 L179.50,324.94 L179.75,324.92 L180.00,324.91 L180.25,324.90 L180.50,324.88 L180.75,324.87 L181.00,324.85 L181.25,324.84 L181.50,324.82 L181.75,324.81 L182.00,324.79 L182.25,324.77 L182.50,324.76 L182.75,324.74 L183.00,324.72 L183.25,324.70 L183.40,324.69 M186.73,324.42 L186.75,324.42 L187.00,324.39 L187.25,324.37 L187.50,324.35 L187.75,324.32 L188.00,324.30 L188.25,324.27 L188.50,324.25 L188.75,324.22 L189.00,324.20 L189.24,324.17 L189.49,324.15 L189.74,324.12 L189.99,324.09 L190.24,324.07 L190.49,324.04 L190.74,324.01 L190.98,323.99 L191.23,323.96 L191.48,323.93 L191.73,323.90 L191.97,323.87 L192.22,323.84 L192.47,323.81 L192.72,323.78 L192.96,323.75 L193.21,323.72 L193.46,323.69 L193.60,323.68 M196.90,323.19 L197.15,323.14 L197.39,323.09 L197.64,323.04 L197.88,322.99 L198.13,322.93 L198.37,322.88 L198.62,322.82 L198.86,322.76 L199.11,322.70 L199.35,322.64 L199.60,322.57 L199.84,322.51 L200.08,322.45 L200.33,322.38 L200.57,322.31 L200.81,322.25 L201.05,322.18 L201.29,322.11 L201.53,322.04 L201.77,321.97 L202.01,321.90 L202.25,321.83 L202.49,321.75 L202.73,321.68 L202.94,321.62 M205.78,320.61 L206.01,320.52 L206.25,320.43 L206.48,320.33 L206.71,320.23 L206.94,320.13 L207.17,320.03 L207.40,319.93 L207.63,319.83 L207.86,319.73 L208.09,319.63 L208.32,319.52 L208.55,319.42 L208.78,319.31 L209.00,319.21 L209.04,319.19 M210.59,318.45 L210.81,318.34 L211.03,318.23 L211.26,318.12 L211.48,318.01 L211.71,317.90 L211.93,317.79 L212.16,317.68 L212.38,317.56 L212.61,317.45 L212.83,317.33 L213.05,317.21 L213.28,317.10 L213.50,316.98 L213.72,316.85 L213.94,316.73 L214.16,316.61 L214.37,316.48 L214.59,316.35 L214.80,316.22 L215.01,316.09 L215.22,315.96 L215.43,315.82 L215.46,315.80 M217.59,314.16 L217.78,314.00 L217.97,313.83 L218.15,313.66 L218.34,313.49 L218.52,313.32 L218.71,313.14 L218.89,312.97 L219.07,312.79 L219.25,312.61 L219.43,312.43 L219.60,312.25 L219.78,312.07 L219.95,311.89 L220.13,311.71 L220.30,311.53 L220.47,311.35 L220.64,311.17 L220.81,310.98 L220.97,310.80 L221.14,310.62 L221.17,310.58 M222.76,308.71 L222.92,308.52 L223.08,308.32 L223.23,308.12 L223.39,307.93 L223.54,307.73 L223.69,307.53 L223.84,307.33 L223.99,307.12 L224.14,306.92 L224.29,306.72 L224.44,306.52 L224.59,306.31 L224.73,306.11 L224.88,305.91 L225.02,305.70 L225.16,305.50 L225.30,305.29 L225.37,305.19 M226.54,303.42 L226.68,303.20 L226.81,302.99 L226.95,302.78 L227.08,302.56 L227.21,302.35 L227.34,302.13 L227.47,301.92 L227.59,301.70 L227.72,301.48 L227.84,301.26 L227.96,301.05 L228.08,300.83 L228.20,300.61 L228.32,300.38 L228.43,300.16 L228.54,299.94 L228.55,299.91 M229.36,298.13 L229.45,297.90 L229.55,297.67 L229.64,297.44 L229.73,297.20 L229.82,296.97 L229.91,296.74 L230.00,296.50 L230.09,296.27 L230.18,296.03 L230.26,295.79 L230.35,295.56 L230.43,295.32 L230.51,295.08 L230.59,294.84 L230.66,294.65 M231.22,292.94 L231.29,292.70 L231.37,292.47 L231.44,292.23 L231.51,291.99 L231.59,291.75 L231.66,291.51 L231.73,291.27 L231.80,291.03 L231.87,290.79 L231.94,290.55 L232.01,290.31 L232.08,290.07 L232.15,289.83 L232.21,289.59 L232.28,289.35 L232.35,289.11 L232.36,289.06 M232.86,287.17 L232.92,286.93 L232.98,286.68 L233.04,286.44 L233.10,286.20 L233.16,285.96 L233.22,285.71 L233.28,285.47 L233.34,285.23 L233.39,284.98 L233.45,284.74 L233.51,284.50 L233.56,284.25 L233.62,284.01 L233.68,283.77 L233.73,283.52 L233.76,283.40 M234.15,281.57 L234.20,281.32 L234.25,281.08 L234.30,280.83 L234.35,280.59 L234.40,280.34 L234.45,280.10 L234.50,279.85 L234.55,279.61 L234.60,279.36 L234.64,279.12 L234.69,278.87 L234.74,278.62 L234.78,278.38 L234.83,278.13 L234.88,277.89 L234.92,277.64 L234.97,277.39 L234.99,277.27 M235.36,275.18 L235.40,274.93 L235.45,274.69 L235.49,274.44 L235.53,274.19 L235.57,273.95 L235.61,273.70 L235.65,273.45 L235.69,273.21 L235.73,272.96 L235.77,272.71 L235.81,272.47 L235.85,272.22 L235.89,271.97 L235.93,271.73 L235.97,271.48 L236.01,271.23 L236.05,270.99 L236.07,270.86 M236.39,268.76 L236.42,268.51 L236.46,268.27 L236.50,268.02 L236.53,267.77 L236.57,267.52 L236.61,267.28 L236.64,267.03 L236.68,266.78 L236.71,266.53 L236.75,266.29 L236.79,266.04 L236.82,265.79 L236.86,265.54 L236.89,265.30 L236.93,265.05 L236.96,264.80 L236.97,264.76 M237.24,262.82 L237.27,262.57 L237.30,262.32 L237.33,262.08 L237.37,261.83 L237.40,261.58 L237.43,261.33 L237.46,261.09 L237.49,260.84 L237.53,260.59 L237.56,260.34 L237.59,260.09 L237.62,259.85 L237.65,259.60 L237.68,259.35 L237.71,259.10 L237.74,258.85 L237.74,258.81 M237.97,256.87 L238.00,256.62 L238.03,256.37 L238.05,256.12 L238.08,255.87 L238.11,255.62 L238.14,255.38 L238.16,255.13 L238.19,254.88 L238.22,254.63 L238.24,254.38 L238.27,254.13 L238.30,253.88 L238.32,253.64 L238.35,253.39 L238.38,253.14 L238.40,252.89 L238.43,252.64 L238.45,252.51 M238.66,250.40 L238.69,250.15 L238.71,249.91 L238.74,249.66 L238.76,249.41 L238.78,249.16 L238.81,248.91 L238.83,248.66 L238.86,248.41 L238.88,248.16 L238.90,247.91 L238.93,247.66 L238.95,247.42 L238.98,247.17 L239.00,246.92 L239.03,246.67 L239.05,246.42 L239.06,246.38 M239.27,244.43 L239.30,244.19 L239.33,243.94 L239.36,243.69 L239.39,243.44 L239.42,243.19 L239.45,242.94 L239.47,242.69 L239.50,242.43 L239.53,242.18 L239.56,241.93 L239.59,241.68 L239.62,241.43 L239.64,241.17 L239.67,240.92 L239.70,240.67 L239.73,240.42 L239.74,240.37 M240.01,238.42 L240.05,238.17 L240.09,237.92 L240.13,237.68 L240.17,237.43 L240.22,237.19 L240.27,236.95 L240.32,236.71 L240.37,236.47 L240.42,236.23 L240.48,236.00 L240.53,235.76 L240.59,235.53 L240.66,235.30 L240.73,235.06 L240.82,234.82 L240.92,234.58 L241.03,234.34 L241.14,234.11 L241.26,233.88 L241.39,233.65 L241.50,233.47 M243.34,231.79 L243.56,231.67 L243.79,231.55 L244.01,231.45 L244.23,231.35 L244.46,231.25 L244.69,231.16 L244.92,231.08 L245.16,230.99 L245.39,230.91 L245.63,230.83 L245.87,230.76 L246.12,230.68 L246.36,230.61 L246.60,230.54 L246.84,230.47 L247.08,230.39 L247.33,230.32 L247.56,230.24 L247.80,230.17 L248.04,230.09 L248.28,230.01 L248.41,229.97 M250.90,229.20 L251.14,229.12 L251.38,229.05 L251.62,228.98 L251.86,228.91 L252.10,228.83 L252.34,228.76 L252.58,228.69 L252.82,228.62 L253.06,228.54 L253.30,228.47 L253.54,228.40 L253.78,228.33 L254.02,228.25 L254.25,228.18 L254.49,228.11 L254.73,228.04 L254.97,227.97 L255.21,227.90 L255.45,227.83 L255.69,227.76 L255.93,227.69 L256.17,227.62 L256.41,227.55 L256.56,227.51 M259.30,226.71 L259.54,226.64 L259.78,226.57 L260.02,226.50 L260.26,226.43 L260.50,226.36 L260.74,226.29 L260.98,226.22 L261.22,226.15 L261.46,226.08 L261.69,226.01 L261.93,225.94 L262.17,225.87 L262.41,225.79 L262.65,225.72 L262.89,225.65 L263.13,225.58 L263.37,225.51 L263.61,225.43 L263.85,225.36 L264.09,225.29 L264.33,225.21 L264.56,225.14 L264.80,225.06 L265.04,224.99 L265.26,224.92 M268.13,223.98 L268.37,223.90 L268.60,223.82 L268.84,223.74 L269.08,223.66 L269.31,223.58 L269.55,223.49 L269.79,223.41 L270.02,223.33 L270.26,223.25 L270.49,223.17 L270.73,223.09 L270.97,223.01 L271.20,222.92 L271.44,222.84 L271.68,222.76 L271.91,222.68 L272.15,222.59 L272.38,222.51 L272.62,222.43 L272.86,222.35 L273.09,222.27 L273.33,222.18 L273.56,222.10 L273.80,222.02 L274.04,221.94 L274.27,221.85 L274.51,221.77 L274.66,221.72 M277.82,220.63 L278.06,220.55 L278.29,220.47 L278.53,220.39 L278.77,220.31 L279.00,220.23 L279.24,220.15 L279.48,220.07 L279.71,219.99 L279.95,219.92 L280.19,219.84 L280.43,219.76 L280.67,219.68 L280.90,219.61 L281.14,219.53 L281.38,219.45 L281.62,219.37 L281.85,219.30 L282.09,219.22 L282.33,219.14 L282.57,219.07 L282.81,218.99 L283.04,218.91 L283.28,218.84 L283.52,218.76 L283.74,218.69 M286.62,217.77 L286.85,217.70 L287.09,217.62 L287.33,217.55 L287.57,217.47 L287.81,217.40 L288.05,217.32 L288.29,217.25 L288.52,217.17 L288.76,217.10 L289.00,217.02 L289.24,216.95 L289.48,216.88 L289.72,216.80 L289.96,216.73 L290.19,216.65 L290.43,216.58 L290.67,216.50 L290.91,216.43 L291.15,216.35 L291.39,216.28 L291.63,216.20 L291.87,216.13 L292.10,216.06 L292.34,215.98 L292.58,215.91 L292.82,215.83 L293.06,215.76 L293.21,215.71 M296.40,214.72 L296.64,214.65 L296.88,214.57 L297.12,214.50 L297.36,214.42 L297.60,214.35 L297.83,214.28 L298.07,214.20 L298.31,214.13 L298.55,214.05 L298.79,213.98 L299.03,213.90 L299.27,213.83 L299.50,213.75 L299.74,213.68 L299.98,213.61 L300.22,213.53 L300.46,213.46 L300.70,213.38 L300.94,213.31 L301.18,213.23 L301.41,213.16 L301.65,213.08 L301.89,213.01 L302.03,212.97 M304.76,212.12 L304.99,212.04 L305.23,211.97 L305.47,211.90 L305.71,211.82 L305.95,211.75 L306.19,211.67 L306.43,211.60 L306.67,211.53 L306.90,211.45 L307.14,211.38 L307.38,211.30 L307.62,211.23 L307.86,211.16 L308.10,211.08 L308.34,211.01 L308.58,210.93 L308.82,210.86 L309.05,210.79 L309.29,210.71 L309.53,210.64 L309.77,210.56 L310.01,210.49 L310.25,210.42 L310.49,210.34 L310.73,210.27 L310.96,210.20 L311.20,210.12 L311.35,210.07 M314.55,209.09 L314.79,209.01 L315.02,208.94 L315.26,208.87 L315.50,208.79 L315.74,208.72 L315.98,208.64 L316.22,208.57 L316.46,208.50 L316.70,208.42 L316.94,208.35 L317.17,208.28 L317.41,208.20 L317.65,208.13 L317.89,208.05 L318.13,207.98 L318.37,207.91 L318.61,207.83 L318.85,207.76 L319.09,207.68 L319.32,207.61 L319.56,207.54 L319.80,207.46 L320.04,207.39 L320.28,207.31 L320.52,207.24 L320.76,207.17 L321.00,207.09 L321.23,207.02 L321.47,206.94 M324.81,205.90 L325.05,205.83 L325.29,205.75 L325.53,205.68 L325.77,205.60 L326.01,205.53 L326.25,205.45 L326.48,205.38 L326.72,205.30 L326.96,205.23 L327.20,205.16 L327.44,205.08 L327.68,205.01 L327.92,204.93 L328.15,204.86 L328.39,204.78 L328.63,204.71 L328.87,204.63 L329.11,204.56 L329.35,204.48 L329.59,204.41 L329.83,204.34 L330.06,204.26 L330.30,204.19 L330.54,204.11 L330.78,204.04 L331.02,203.96 L331.26,203.89 L331.41,203.84 M334.60,202.85 L334.84,202.78 L335.08,202.70 L335.32,202.63 L335.56,202.56 L335.79,202.48 L336.03,202.41 L336.27,202.34 L336.51,202.26 L336.75,202.19 L336.99,202.12 L337.23,202.04 L337.47,201.97 L337.71,201.90 L337.95,201.82 L338.19,201.75 L338.42,201.68 L338.66,201.61 L338.90,201.53 L339.14,201.46 L339.38,201.39 L339.62,201.31 L339.86,201.24 L340.10,201.17 L340.34,201.10 L340.58,201.03 L340.82,200.95 L341.06,200.88 L341.21,200.83 M344.40,199.86 L344.64,199.78 L344.88,199.71 L345.12,199.64 L345.36,199.56 L345.60,199.49 L345.84,199.42 L346.08,199.34 L346.32,199.27 L346.56,199.20 L346.80,199.13 L347.03,199.05 L347.27,198.98 L347.51,198.91 L347.75,198.83 L347.99,198.76 L348.23,198.69 L348.47,198.61 L348.71,198.54 L348.95,198.47 L349.19,198.40 L349.43,198.32 L349.67,198.25 L349.91,198.18 L350.15,198.11 L350.39,198.04 L350.63,197.96 L350.85,197.90 M353.98,196.97 L354.22,196.90 L354.46,196.83 L354.70,196.76 L354.94,196.70 L355.18,196.63 L355.42,196.56 L355.66,196.49 L355.90,196.42 L356.15,196.35 L356.39,196.29 L356.63,196.22 L356.87,196.15 L357.11,196.08 L357.35,196.02 L357.59,195.95 L357.83,195.88 L358.07,195.82 L358.31,195.75 L358.55,195.69 L358.79,195.62 L359.04,195.56 L359.28,195.49 L359.52,195.43 L359.76,195.36 L360.00,195.30 L360.24,195.24 L360.31,195.22 M363.39,194.42 L363.63,194.36 L363.87,194.30 L364.11,194.23 L364.36,194.17 L364.60,194.11 L364.84,194.05 L365.08,193.99 L365.33,193.93 L365.57,193.87 L365.81,193.81 L366.06,193.75 L366.30,193.69 L366.54,193.63 L366.78,193.57 L367.03,193.51 L367.27,193.45 L367.51,193.39 L367.76,193.33 L368.00,193.27 L368.24,193.21 L368.49,193.16 L368.73,193.10 L368.97,193.04 L369.22,192.98 L369.46,192.92 L369.61,192.89 M372.63,192.20 L372.87,192.15 L373.12,192.10 L373.36,192.05 L373.61,191.99 L373.85,191.94 L374.10,191.89 L374.34,191.84 L374.58,191.79 L374.83,191.74 L375.07,191.68 L375.32,191.63 L375.56,191.58 L375.81,191.54 L376.05,191.49 L376.30,191.44 L376.54,191.39 L376.79,191.34 L377.03,191.29 L377.28,191.25 L377.52,191.20 L377.77,191.15 L378.02,191.11 L378.26,191.06 L378.51,191.02 L378.75,190.97 L378.91,190.94 M381.96,190.41 L382.00,190.40" stroke="#0000ff" stroke-width="0.8" fill="none"/>
<text transform="translate(30.38,193.0) scale(0.679,1)" font-size="8.2" font-family="Liberation Sans">1</text>
<text transform="translate(35.20,193.0) scale(1.250,1)" font-size="8.2" font-family="Liberation Sans">0</text>
<text transform="translate(41.07,188.4) scale(1.065,1)" font-size="5.5" font-family="Liberation Sans">0</text>
<text transform="translate(18.78,262.8333333333333) scale(0.679,1)" font-size="8.2" font-family="Liberation Sans">1</text>
<text transform="translate(23.60,262.8333333333333) scale(1.250,1)" font-size="8.2" font-family="Liberation Sans">0</text>
<text transform="translate(29.96,258.3333333333333) scale(0.898,1)" font-size="5.5" font-family="Liberation Sans">−</text>
<text transform="translate(33.00,258.3333333333333) scale(1.185,1)" font-size="5.5" font-family="Liberation Sans">10</text>
<text transform="translate(18.78,332.66666666666663) scale(0.679,1)" font-size="8.2" font-family="Liberation Sans">1</text>
<text transform="translate(23.60,332.66666666666663) scale(1.250,1)" font-size="8.2" font-family="Liberation Sans">0</text>
<text transform="translate(29.96,328.16666666666663) scale(0.898,1)" font-size="5.5" font-family="Liberation Sans">−</text>
<text transform="translate(33.18,328.16666666666663) scale(1.155,1)" font-size="5.5" font-family="Liberation Sans">20</text>
<text transform="translate(18.78,402.5) scale(0.679,1)" font-size="8.2" font-family="Liberation Sans">1</text>
<text transform="translate(23.60,402.5) scale(1.250,1)" font-size="8.2" font-family="Liberation Sans">0</text>
<text transform="translate(29.96,398.0) scale(0.898,1)" font-size="5.5" font-family="Liberation Sans">−</text>
<text transform="translate(33.26,398.0) scale(1.142,1)" font-size="5.5" font-family="Liberation Sans">30</text>
<text transform="translate(44.90,408.9) scale(1.185,1)" font-size="8.5" font-family="Liberation Sans">−10</text>
<text transform="translate(113.29,408.9) scale(1.213,1)" font-size="8.5" font-family="Liberation Sans">−8</text>
<text transform="translate(178.99,408.9) scale(1.214,1)" font-size="8.5" font-family="Liberation Sans">−6</text>
<text transform="translate(244.70,408.9) scale(1.197,1)" font-size="8.5" font-family="Liberation Sans">−4</text>
<text transform="translate(310.39,408.9) scale(1.221,1)" font-size="8.5" font-family="Liberation Sans">−2</text>
<text transform="translate(379.09,408.9) scale(1.231,1)" font-size="8.5" font-family="Liberation Sans">0</text>
<text transform="translate(176.90,420.4) scale(1.126,1)" font-size="11.9" font-family="Liberation Sans">Log</text>
<text transform="translate(201.16,423.1) scale(1.154,1)" font-size="7.3" font-family="Liberation Sans">10</text>
<text transform="translate(211.04,420.4) scale(0.761,1)" font-size="11.9" font-family="Liberation Sans">(</text>
<text transform="translate(215.56,420.3) scale(1.057,1)" font-size="10.6" font-family="Liberation Sans">ϕ</text>
<text transform="translate(222.64,423) scale(1.005,1)" font-size="6.0" font-family="Liberation Sans">c</text>
<text transform="translate(227.28,413.9) scale(0.902,1)" font-size="7.3" font-family="Liberation Sans">+</text>
<text transform="translate(232.61,420.3) scale(1.056,1)" font-size="11.3" font-family="Liberation Sans">−</text>
<text transform="translate(239.96,420.3) scale(1.057,1)" font-size="10.6" font-family="Liberation Sans">ϕ</text>
<text transform="translate(247.35,420.4) scale(0.761,1)" font-size="11.9" font-family="Liberation Sans">)</text>
<text transform="translate(101.64,241.3) scale(1.068,1)" font-size="10.2" font-family="Liberation Sans">d</text>
<text transform="translate(107.52,241.3) scale(1.224,1)" font-size="10.0" font-family="Liberation Sans">ϕ</text>
<text transform="translate(114.40,241.3) scale(1.553,1)" font-size="10.2" font-family="Liberation Serif">/</text>
<text transform="translate(119.56,241.3) scale(1.194,1)" font-size="10.2" font-family="Liberation Serif">d</text>
<text transform="translate(126.59,241.3) scale(1.084,1)" font-size="10.2" font-family="Liberation Serif">t</text>
<text transform="translate(84.35,261.7) scale(1.322,1)" font-size="10.4" font-family="Liberation Sans">h</text>
<text transform="translate(93.03,305.3) scale(1.364,1)" font-size="10.5" font-family="Liberation Sans">N</text>
<text transform="translate(82.36,337.3) scale(1.294,1)" font-size="10.0" font-family="Liberation Sans">dN/dt</text>
<text transform="translate(241.75,304.8) scale(1.244,1)" font-size="10.5" font-family="Liberation Sans">dh/dt</text>
</svg>
</body></html>
